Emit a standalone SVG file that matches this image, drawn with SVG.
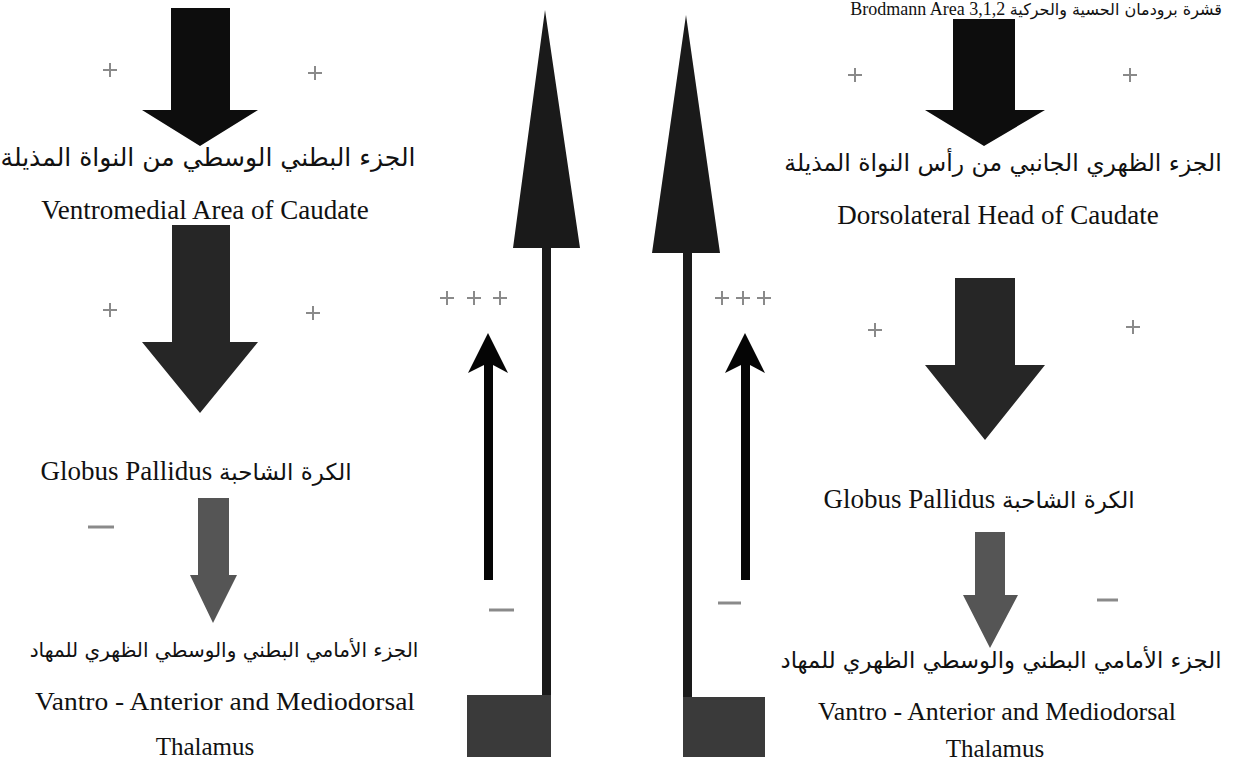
<svg xmlns="http://www.w3.org/2000/svg" width="1243" height="765" viewBox="0 0 1243 765">
<style>
.t{font-family:"Liberation Serif","DejaVu Sans",serif;font-size:27px;fill:#111;text-anchor:middle}
.ar{font-family:"DejaVu Sans","Liberation Serif",sans-serif;font-size:23px;fill:#111;text-anchor:middle}
.arp{font-family:"DejaVu Sans",sans-serif;font-size:23px}
.plus{stroke:#8a8a8a;stroke-width:2;fill:none}
.minus{stroke:#8a8a8a;stroke-width:3}
.a1{fill:#0d0d0d}
.a2{fill:#262626}
.a3{fill:#555}
.big{fill:#1a1a1a}
.box{fill:#3a3a3a}
.thin{fill:#050505}
</style>
<defs>
<g id="p"><path class="plus" d="M-7 0H7M0 -7V7"/></g>
</defs>
<rect width="1243" height="765" fill="#fff"/>
<g id="top-right-label"><text class="t" x="1222" y="15" style="font-size:18px;text-anchor:end">Brodmann Area 3,1,2 <tspan class="arp" style="font-size:16px">قشرة برودمان الحسية والحركية</tspan></text></g>
<g id="node-ventromedial">
<text class="ar" x="208" y="166" style="font-size:25px">الجزء البطني الوسطي من النواة المذيلة</text>
<text class="t" x="205" y="219">Ventromedial Area of Caudate</text>
</g>
<g id="node-dorsolateral">
<text class="ar" x="1003" y="171" style="font-size:23.5px">الجزء الظهري الجانبي من رأس النواة المذيلة</text>
<text class="t" x="998" y="224">Dorsolateral Head of Caudate</text>
</g>
<g id="node-gp-left"><text class="t" x="196" y="480">Globus Pallidus <tspan class="arp">الكرة الشاحبة</tspan></text></g>
<g id="node-gp-right"><text class="t" x="979" y="508">Globus Pallidus <tspan class="arp">الكرة الشاحبة</tspan></text></g>
<g id="node-thalamus-left">
<text class="ar" x="224" y="657" style="font-size:20px">الجزء الأمامي البطني والوسطي الظهري للمهاد</text>
<text class="t" x="225" y="710" style="font-size:26px" textLength="380" lengthAdjust="spacingAndGlyphs">Vantro - Anterior and Mediodorsal</text>
<text class="t" x="205" y="755" style="font-size:25px">Thalamus</text>
</g>
<g id="node-thalamus-right">
<text class="ar" x="1001" y="668" style="font-size:22.7px">الجزء الأمامي البطني والوسطي الظهري للمهاد</text>
<text class="t" x="997" y="720" style="font-size:26px" textLength="358" lengthAdjust="spacingAndGlyphs">Vantro - Anterior and Mediodorsal</text>
<text class="t" x="995" y="757" style="font-size:25px">Thalamus</text>
</g>
<g id="connectors">
<polygon class="a1" points="171,8 230,8 230,110 258,110 200,146 142,110 171,110"/>
<polygon class="a2" points="172,225 230,225 230,342 258,342 200,413 142,342 172,342"/>
<polygon class="a3" points="198,498 229,498 229,575 237,575 213,623 190,575 198,575"/>
<polygon class="a1" points="953,19 1015,19 1015,110 1045,110 984,146 925,110 953,110"/>
<polygon class="a2" points="955,278 1015,278 1015,365 1045,365 985,440 925,365 955,365"/>
<polygon class="a3" points="975,532 1005,532 1005,595 1018,595 990,648 963,595 975,595"/>
<polygon class="big" points="545,10 580,248 551,248 551,757 467,757 467,695 542,695 542,248 513,248"/>
<rect class="box" x="467" y="695" width="84" height="62"/>
<polygon class="big" points="686,15 720,253 692,253 692,697 765,697 765,757 683,757 683,253 652,253"/>
<rect class="box" x="683" y="697" width="82" height="60"/>
<polygon class="thin" points="488,333 508,373 493,365 493,580 484,580 484,365 468,373"/>
<polygon class="thin" points="745,333 765,373 750,365 750,580 741,580 741,365 725,373"/>
<use href="#p" x="110" y="70"/><use href="#p" x="315" y="73"/>
<use href="#p" x="855" y="75"/><use href="#p" x="1130" y="75"/>
<use href="#p" x="110" y="310"/><use href="#p" x="313" y="313"/>
<use href="#p" x="875" y="330"/><use href="#p" x="1133" y="327"/>
<use href="#p" x="447" y="298"/><use href="#p" x="474" y="298"/><use href="#p" x="500" y="298"/>
<use href="#p" x="722" y="298"/><use href="#p" x="743" y="298"/><use href="#p" x="764" y="298"/>
<line class="minus" x1="88" y1="527" x2="114" y2="527"/>
<line class="minus" x1="489" y1="610" x2="514" y2="610"/>
<line class="minus" x1="718" y1="603" x2="741" y2="603"/>
<line class="minus" x1="1097" y1="600" x2="1118" y2="600"/>
</g>
</svg>
